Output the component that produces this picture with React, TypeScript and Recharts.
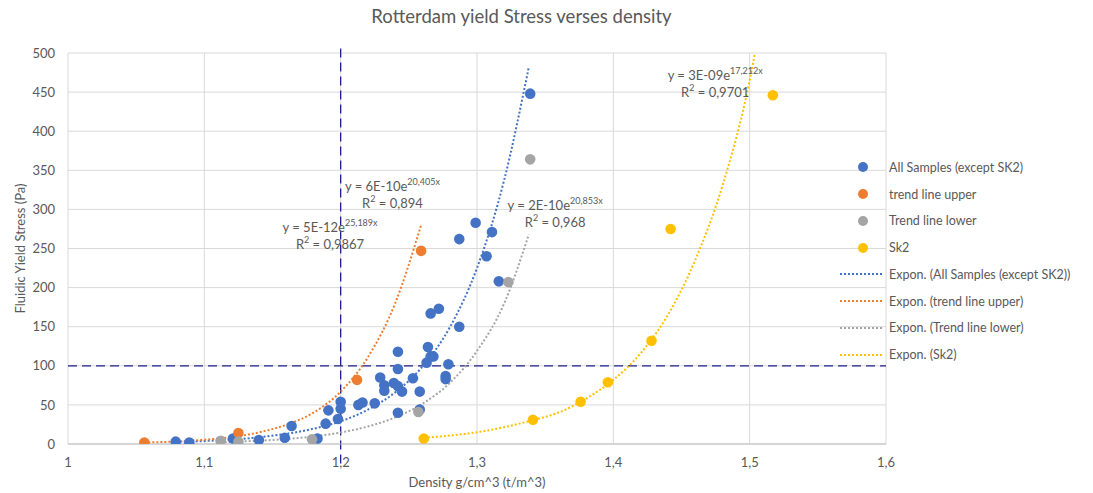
import {
  ComposedChart,
  Scatter,
  Line,
  XAxis,
  YAxis,
  CartesianGrid,
  ReferenceLine,
  ReferenceDot,
} from 'recharts';

type Pt = { x: number; y: number };

const allSamples: Pt[] = [
  { x: 1.079, y: 3 }, { x: 1.089, y: 2 }, { x: 1.121, y: 7 }, { x: 1.14, y: 5 },
  { x: 1.159, y: 8 }, { x: 1.164, y: 23 }, { x: 1.183, y: 7 }, { x: 1.189, y: 26 },
  { x: 1.191, y: 43 }, { x: 1.198, y: 32 }, { x: 1.2, y: 45 }, { x: 1.2, y: 54 },
  { x: 1.213, y: 50 }, { x: 1.216, y: 53 }, { x: 1.225, y: 52 }, { x: 1.229, y: 85 },
  { x: 1.232, y: 75 }, { x: 1.232, y: 68 }, { x: 1.239, y: 78 }, { x: 1.242, y: 74 },
  { x: 1.242, y: 96 }, { x: 1.242, y: 118 }, { x: 1.242, y: 40 }, { x: 1.245, y: 67 },
  { x: 1.253, y: 84 }, { x: 1.258, y: 67 }, { x: 1.258, y: 44 }, { x: 1.263, y: 104 },
  { x: 1.264, y: 124 }, { x: 1.266, y: 112 }, { x: 1.268, y: 112 }, { x: 1.266, y: 167 },
  { x: 1.272, y: 173 }, { x: 1.277, y: 87 }, { x: 1.277, y: 83 }, { x: 1.279, y: 102 },
  { x: 1.287, y: 150 }, { x: 1.287, y: 262 }, { x: 1.299, y: 283 }, { x: 1.307, y: 240 },
  { x: 1.311, y: 271 }, { x: 1.316, y: 208 }, { x: 1.339, y: 448 },
];

const trendUpper: Pt[] = [
  { x: 1.056, y: 2 }, { x: 1.125, y: 14 }, { x: 1.212, y: 82 }, { x: 1.259, y: 247 },
];

const trendLower: Pt[] = [
  { x: 1.112, y: 4 }, { x: 1.125, y: 3 }, { x: 1.179, y: 6 }, { x: 1.257, y: 41 },
  { x: 1.323, y: 207 }, { x: 1.339, y: 364 },
];

const sk2: Pt[] = [
  { x: 1.261, y: 7 }, { x: 1.341, y: 31 }, { x: 1.376, y: 54 }, { x: 1.396, y: 79 },
  { x: 1.428, y: 132 }, { x: 1.442, y: 275 }, { x: 1.517, y: 446 },
];

// dotted exponential trendlines
const fitAll: Pt[] = [
  { x: 1.079, y: 2.5 }, { x: 1.1, y: 3.8 }, { x: 1.14, y: 8.6 }, { x: 1.18, y: 19.5 },
  { x: 1.2, y: 29 }, { x: 1.22, y: 44 }, { x: 1.24, y: 66 }, { x: 1.26, y: 99 },
  { x: 1.28, y: 149 }, { x: 1.3, y: 225 }, { x: 1.32, y: 338 }, { x: 1.338, y: 482 },
];

const fitUpper: Pt[] = [
  { x: 1.056, y: 1.8 }, { x: 1.08, y: 3.3 }, { x: 1.1, y: 5.4 }, { x: 1.12, y: 8.9 },
  { x: 1.14, y: 14.8 }, { x: 1.16, y: 24.5 }, { x: 1.18, y: 40 }, { x: 1.2, y: 67 },
  { x: 1.22, y: 111 }, { x: 1.24, y: 180 }, { x: 1.259, y: 280 },
];

const fitLower: Pt[] = [
  { x: 1.112, y: 2.4 }, { x: 1.14, y: 4.2 }, { x: 1.18, y: 9.7 }, { x: 1.2, y: 14.7 },
  { x: 1.22, y: 22.4 }, { x: 1.24, y: 34 }, { x: 1.26, y: 51.5 }, { x: 1.28, y: 78 },
  { x: 1.3, y: 119 }, { x: 1.32, y: 180 }, { x: 1.338, y: 268 },
];

const fitSk2: Pt[] = [
  { x: 1.261, y: 8 }, { x: 1.3, y: 15 }, { x: 1.34, y: 30 }, { x: 1.361, y: 41 },
  { x: 1.38, y: 58 }, { x: 1.4, y: 82 }, { x: 1.42, y: 116 }, { x: 1.44, y: 165 },
  { x: 1.46, y: 235 }, { x: 1.48, y: 330 }, { x: 1.5, y: 465 }, { x: 1.51, y: 560 },
];

const X_TICKS = [1, 1.1, 1.2, 1.3, 1.4, 1.5, 1.6];
const Y_TICKS = [0, 50, 100, 150, 200, 250, 300, 350, 400, 450, 500];

const EQUATIONS = [
  { x: 1.1922, y: 278, coef: 'y = 5E-12e', power: '25,189x', r2: '0,9867' },
  { x: 1.238, y: 330, coef: 'y = 6E-10e', power: '20,405x', r2: '0,894' },
  { x: 1.3573, y: 306, coef: 'y = 2E-10e', power: '20,853x', r2: '0,968' },
  { x: 1.4747, y: 472, coef: 'y = 3E-09e', power: '17,212x', r2: '0,9701' },
];

const BLUE = '#4472C4';
const ORANGE = '#ED7D31';
const GRAY = '#A5A5A5';
const GOLD = '#FFC000';
const NAVY = '#1F1F8F';
const TEXT = '#595959';

const LEGEND = [
  { label: 'All Samples (except SK2)', color: BLUE, kind: 'dot' },
  { label: 'trend line upper', color: ORANGE, kind: 'dot' },
  { label: 'Trend line lower', color: GRAY, kind: 'dot' },
  { label: 'Sk2', color: GOLD, kind: 'dot' },
  { label: 'Expon. (All Samples (except SK2))', color: BLUE, kind: 'line' },
  { label: 'Expon. (trend line upper)', color: ORANGE, kind: 'line' },
  { label: 'Expon. (Trend line lower)', color: GRAY, kind: 'line' },
  { label: 'Expon. (Sk2)', color: GOLD, kind: 'line' },
];

const fmtX = (v: number) => String(Math.round(v * 10) / 10).replace('.', ',');

const dotShape = (color: string) => (p: any) =>
  <circle cx={p.cx} cy={p.cy} r={5.3} fill={color} />;

function EquationLabel({ cx, cy, coef, power, r2 }: any) {
  return (
    <g fill={TEXT} fontSize={13}>
      <text x={cx} y={cy} textAnchor="middle" dominantBaseline="central">
        <tspan>{coef}</tspan>
        <tspan fontSize={9} dy={-5}>{power}</tspan>
      </text>
      <text x={cx} y={cy + 17} textAnchor="middle" dominantBaseline="central">
        <tspan>R</tspan>
        <tspan fontSize={9} dy={-5}>2</tspan>
        <tspan dy={5}>{` = ${r2}`}</tspan>
      </text>
    </g>
  );
}

function trend(data: Pt[], color: string, key: string) {
  return (
    <Line
      key={key}
      data={data}
      dataKey="y"
      type="monotone"
      stroke={color}
      strokeWidth={2}
      strokeDasharray="2 2"
      dot={false}
      activeDot={false}
      isAnimationActive={false}
    />
  );
}

export default function App() {
  return (
    <div
      style={{
        position: 'absolute',
        left: 0,
        top: 0,
        width: 1093,
        height: 493,
        background: '#fff',
        fontFamily: 'Lato, sans-serif',
      }}
    >
      <div
        style={{
          position: 'absolute',
          top: 5,
          left: 0,
          width: 1043,
          textAlign: 'center',
          fontSize: 18.5,
          color: TEXT,
        }}
      >
        Rotterdam yield Stress verses density
      </div>

      <ComposedChart
        width={1093}
        height={493}
        margin={{ top: 53, right: 207, bottom: 0, left: 0 }}
      >
        <CartesianGrid stroke="#D9D9D9" strokeWidth={1} />
        <XAxis
          type="number"
          dataKey="x"
          domain={[1, 1.6]}
          ticks={X_TICKS}
          tickFormatter={fmtX}
          allowDataOverflow
          height={49}
          tickLine={false}
          tickMargin={8}
          axisLine={{ stroke: '#BFBFBF' }}
          tick={{ fill: TEXT, fontSize: 13 }}
          label={{ value: 'Density g/cm^3 (t/m^3)', position: 'insideBottom', offset: 6, fill: TEXT, fontSize: 13 }}
        />
        <YAxis
          type="number"
          dataKey="y"
          domain={[0, 500]}
          ticks={Y_TICKS}
          allowDataOverflow
          width={68}
          tickLine={false}
          axisLine={false}
          tickMargin={7}
          tick={{ fill: TEXT, fontSize: 13 }}
          label={{
            value: 'Fluidic Yield Stress (Pa)',
            angle: -90,
            position: 'insideLeft',
            offset: 20,
            fill: TEXT,
            fontSize: 13,
            style: { textAnchor: 'middle' },
          }}
        />

        <ReferenceLine y={100} stroke={NAVY} strokeWidth={1.3} strokeDasharray="9 5" />
        <ReferenceLine
          segment={[{ x: 1.2, y: -25 }, { x: 1.2, y: 510 }]}
          ifOverflow="visible"
          stroke={NAVY}
          strokeWidth={1.3}
          strokeDasharray="9 5"
        />

        {trend(fitAll, BLUE, 'fa')}
        {trend(fitUpper, ORANGE, 'fu')}
        {trend(fitLower, GRAY, 'fl')}
        {trend(fitSk2, GOLD, 'fs')}

        <Scatter data={allSamples} dataKey="y" shape={dotShape(BLUE)} isAnimationActive={false} />
        <Scatter data={trendUpper} dataKey="y" shape={dotShape(ORANGE)} isAnimationActive={false} />
        <Scatter data={trendLower} dataKey="y" shape={dotShape(GRAY)} isAnimationActive={false} />
        <Scatter data={sk2} dataKey="y" shape={dotShape(GOLD)} isAnimationActive={false} />

        {EQUATIONS.map((eq) => (
          <ReferenceDot
            key={eq.coef}
            x={eq.x}
            y={eq.y}
            r={0}
            shape={(p: any) => <EquationLabel cx={p.cx} cy={p.cy} {...eq} />}
          />
        ))}
      </ComposedChart>

      {/* legend overlaps the right edge of the plot like the Excel original */}
      <div style={{ position: 'absolute', left: 836, top: 154 }}>
        {LEGEND.map((item) => (
          <div
            key={item.label}
            style={{ display: 'flex', alignItems: 'center', height: 26.75 }}
          >
            <svg width={46} height={12} style={{ marginRight: 7 }}>
              {item.kind === 'dot' ? (
                <circle cx={27} cy={6} r={5} fill={item.color} />
              ) : (
                <line
                  x1={4}
                  y1={6}
                  x2={46}
                  y2={6}
                  stroke={item.color}
                  strokeWidth={2}
                  strokeDasharray="2 2"
                />
              )}
            </svg>
            <span style={{ fontSize: 12.5, color: TEXT, whiteSpace: 'nowrap' }}>{item.label}</span>
          </div>
        ))}
      </div>
    </div>
  );
}
